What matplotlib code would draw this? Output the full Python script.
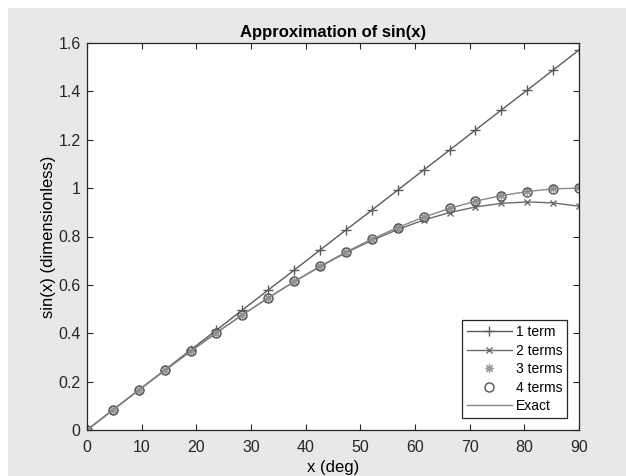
import matplotlib
matplotlib.use("Agg")
import matplotlib.pyplot as plt
from matplotlib.patches import Rectangle

plt.rcParams['font.family'] = ['Liberation Sans', 'DejaVu Sans']

# angles in degrees (20 samples from 0 to 90)
x_deg = [0, 4.74, 9.47, 14.21, 18.95, 23.68, 28.42, 33.16, 37.89, 42.63,
         47.37, 52.11, 56.84, 61.58, 66.32, 71.05, 75.79, 80.53, 85.26, 90]

# approximations
one_term = [0, 0.083, 0.165, 0.248, 0.331, 0.413, 0.496, 0.579, 0.661, 0.744,
            0.827, 0.909, 0.992, 1.075, 1.157, 1.240, 1.323, 1.405, 1.488, 1.571]
two_terms = [0, 0.083, 0.165, 0.246, 0.325, 0.402, 0.476, 0.546, 0.613, 0.675,
             0.733, 0.784, 0.829, 0.868, 0.899, 0.922, 0.937, 0.943, 0.939, 0.925]
three_terms = [0, 0.083, 0.165, 0.246, 0.325, 0.402, 0.476, 0.547, 0.614, 0.677,
               0.736, 0.789, 0.838, 0.880, 0.917, 0.947, 0.972, 0.989, 1.000, 1.005]
four_terms = [0, 0.083, 0.165, 0.246, 0.325, 0.402, 0.476, 0.547, 0.614, 0.677,
              0.736, 0.789, 0.837, 0.880, 0.916, 0.946, 0.969, 0.986, 0.997, 1.000]
exact = [0, 0.083, 0.165, 0.246, 0.325, 0.402, 0.476, 0.547, 0.614, 0.677,
         0.736, 0.789, 0.837, 0.880, 0.916, 0.946, 0.969, 0.986, 0.997, 1.000]

fig = plt.figure(figsize=(6.26, 4.76), dpi=100)
fig.patch.set_facecolor('white')
# gray figure area (white strip on top and left)
fig.patches.append(Rectangle((8 / 626, 0), 1, 1 - 8 / 476, transform=fig.transFigure,
                             facecolor='#e8e8e8', edgecolor='none', zorder=-10))

ax = fig.add_axes([87 / 626, 46 / 476, 492 / 626, 387 / 476])
ax.set_facecolor('white')

ax.plot(x_deg, one_term, color='#5a5a5a', lw=1.0, marker='+', ms=7, mew=1.0, label='1 term')
ax.plot(x_deg, two_terms, color='#6a6a6a', lw=1.0, marker='x', ms=5, mew=1.0, label='2 terms')
ax.plot(x_deg, three_terms, color='#9a9a9a', ls='none', marker=(8, 2, 0), ms=6, mew=0.9,
        label='3 terms')
ax.plot(x_deg, four_terms, ls='none', marker='o', ms=6.5, mfc='none', mec='#555555', mew=1.0,
        label='4 terms')
ax.plot(x_deg, exact, color='#888888', lw=1.0, label='Exact')

ax.set_xlim(0, 90)
ax.set_ylim(0, 1.6)
ax.set_xticks(range(0, 91, 10))
ax.set_yticks([0, 0.2, 0.4, 0.6, 0.8, 1.0, 1.2, 1.4, 1.6])
ax.set_yticklabels(['0', '0.2', '0.4', '0.6', '0.8', '1', '1.2', '1.4', '1.6'])
ax.tick_params(direction='in', top=True, right=True, length=4, labelsize=11.5,
               colors='#262626', width=0.8)
ax.tick_params(axis='x', pad=7)
ax.tick_params(axis='y', pad=4.5)
for s in ax.spines.values():
    s.set_color('#262626')
    s.set_linewidth(0.9)

ax.set_title('Approximation of sin(x)', fontsize=12, fontweight='bold', pad=4)
ax.set_xlabel('x (deg)', fontsize=12, labelpad=4)
ax.set_ylabel('sin(x) (dimensionless)', fontsize=12, labelpad=2)

leg = ax.legend(loc='lower right', fontsize=10, fancybox=False, framealpha=1,
                edgecolor='#262626', handlelength=3.2, borderpad=0.35,
                labelspacing=0.33, handletextpad=0.3, borderaxespad=0.85)
leg.get_frame().set_linewidth(0.9)

fig.savefig('out.png', dpi=100)
